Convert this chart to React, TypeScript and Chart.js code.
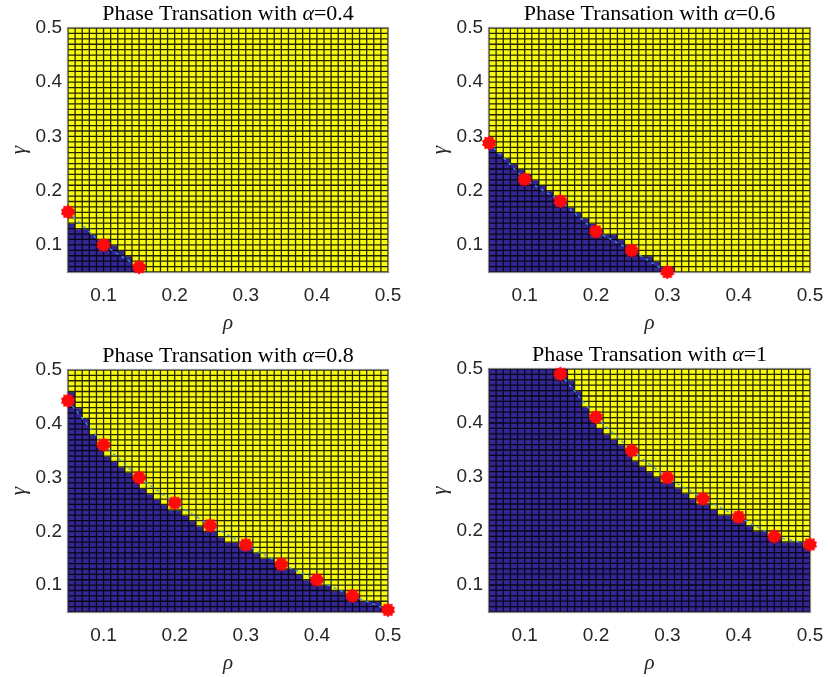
import React, { useEffect, useRef } from "react";
import { Chart, registerables } from "chart.js";

Chart.register(...registerables);

// cell edges for rho (x) and gamma (y)
const GRID = [
  0.05, 0.06, 0.07, 0.08, 0.09, 0.1, 0.11, 0.12, 0.13, 0.14, 0.15, 0.16, 0.17, 0.18, 0.19, 0.2,
  0.21, 0.22, 0.23, 0.24, 0.25, 0.26, 0.27, 0.28, 0.29, 0.3, 0.31, 0.32, 0.33, 0.34, 0.35, 0.36,
  0.37, 0.38, 0.39, 0.4, 0.41, 0.42, 0.43, 0.44, 0.45, 0.46, 0.47, 0.48, 0.49, 0.5,
];
const TICKS = [0.1, 0.2, 0.3, 0.4, 0.5];
const TICK_LABELS = ["0.1", "0.2", "0.3", "0.4", "0.5"];
const ALPHAS = ["0.4", "0.6", "0.8", "1"];

// number of "failure" (blue) cells from the bottom in each rho column
const BLUE_A04 = [
  9, 8, 8, 7, 6, 6, 5, 4, 3, 1, 0, 0, 0, 0, 0, 0, 0, 0, 0, 0, 0, 0, 0, 0, 0, 0, 0, 0, 0, 0, 0, 0,
  0, 0, 0, 0, 0, 0, 0, 0, 0, 0, 0, 0, 0,
];
const BLUE_A06 = [
  23, 22, 21, 20, 19, 18, 17, 16, 15, 14, 13, 12, 11, 10, 9, 8, 7, 7, 6, 5, 4, 3, 3, 2, 1, 1, 0,
  0, 0, 0, 0, 0, 0, 0, 0, 0, 0, 0, 0, 0, 0, 0, 0, 0, 0,
];
const BLUE_A08 = [
  41, 38, 36, 33, 31, 29, 28, 27, 26, 25, 23, 22, 21, 20, 19, 19, 18, 17, 16, 15, 15, 14, 13, 13,
  12, 12, 11, 10, 10, 9, 8, 8, 7, 6, 6, 5, 5, 4, 4, 3, 3, 2, 2, 2, 1,
];
const BLUE_A1 = [
  45, 45, 45, 45, 45, 45, 45, 45, 45, 45, 45, 43, 41, 38, 36, 34, 33, 32, 31, 30, 28, 27, 26, 25,
  24, 24, 23, 22, 21, 20, 20, 19, 18, 18, 17, 17, 16, 15, 15, 14, 14, 13, 13, 13, 12,
];

// theoretical transition points (red markers)
const RHO_A04 = [0.05, 0.1, 0.15];
const GAMMA_A04 = [0.161, 0.1, 0.059];
const RHO_A06 = [0.05, 0.1, 0.15, 0.2, 0.25, 0.3];
const GAMMA_A06 = [0.288, 0.221, 0.181, 0.125, 0.09, 0.05];
const RHO_A08 = [0.05, 0.1, 0.15, 0.2, 0.25, 0.3, 0.35, 0.4, 0.45, 0.5];
const GAMMA_A08 = [0.443, 0.361, 0.3, 0.253, 0.211, 0.175, 0.139, 0.11, 0.08, 0.054];
const RHO_A1 = [0.15, 0.2, 0.25, 0.3, 0.35, 0.4, 0.45, 0.5];
const GAMMA_A1 = [0.491, 0.411, 0.349, 0.299, 0.26, 0.226, 0.19, 0.175];

const PANELS = [
  { alpha: ALPHAS[0], blue: BLUE_A04, rho: RHO_A04, gamma: GAMMA_A04 },
  { alpha: ALPHAS[1], blue: BLUE_A06, rho: RHO_A06, gamma: GAMMA_A06 },
  { alpha: ALPHAS[2], blue: BLUE_A08, rho: RHO_A08, gamma: GAMMA_A08 },
  { alpha: ALPHAS[3], blue: BLUE_A1, rho: RHO_A1, gamma: GAMMA_A1 },
];

// canvas placement and chart-area padding per panel
const LAYOUT = [
  { left: 0, top: 0, w: 414, h: 338, pl: 68, pr: 26, pt: 28, pb: 66 },
  { left: 414, top: 0, w: 414, h: 338, pl: 75, pr: 18, pt: 28, pb: 66 },
  { left: 0, top: 338, w: 414, h: 339, pl: 68, pr: 26, pt: 32, pb: 65 },
  { left: 414, top: 338, w: 414, h: 339, pl: 75, pr: 18, pt: 31, pb: 65 },
];

const BLUE = "rgb(52,38,148)";
const YELLOW = "rgb(249,251,14)";
const TICK_FONT = "Liberation Sans";
const SERIF = "Liberation Serif";

function makeStar(): HTMLCanvasElement {
  const c = document.createElement("canvas");
  const s = 18;
  c.width = s;
  c.height = s;
  const ctx = c.getContext("2d")!;
  ctx.fillStyle = "#ff0a0a";
  ctx.beginPath();
  const n = 10;
  const ro = 7.6;
  const ri = 5.8;
  for (let k = 0; k < 2 * n; k++) {
    const r = k % 2 ? ri : ro;
    const a = -Math.PI / 2 + (k * Math.PI) / n;
    const px = s / 2 + r * Math.cos(a);
    const py = s / 2 + r * Math.sin(a);
    if (k === 0) ctx.moveTo(px, py);
    else ctx.lineTo(px, py);
  }
  ctx.closePath();
  ctx.fill();
  return c;
}

function heatmapPlugin(rows: number[]) {
  return {
    id: "heatmap",
    beforeDatasetsDraw(chart: any) {
      const { ctx, chartArea } = chart;
      const x = chart.scales.x;
      const y = chart.scales.y;
      ctx.save();
      for (let i = 0; i < GRID.length - 1; i++) {
        const x0 = x.getPixelForValue(GRID[i]);
        const x1 = x.getPixelForValue(GRID[i + 1]);
        for (let j = 0; j < GRID.length - 1; j++) {
          const y0 = y.getPixelForValue(GRID[j]);
          const y1 = y.getPixelForValue(GRID[j + 1]);
          ctx.fillStyle = j < rows[i] ? BLUE : YELLOW;
          ctx.fillRect(x0, y1, x1 - x0 + 0.6, y0 - y1 + 0.6);
        }
      }
      ctx.strokeStyle = "rgba(0,0,0,0.85)";
      ctx.lineWidth = 1.3;
      ctx.beginPath();
      for (const v of GRID) {
        const px = x.getPixelForValue(v);
        ctx.moveTo(px, chartArea.top);
        ctx.lineTo(px, chartArea.bottom);
        const py = y.getPixelForValue(v);
        ctx.moveTo(chartArea.left, py);
        ctx.lineTo(chartArea.right, py);
      }
      ctx.stroke();
      ctx.strokeStyle = "#8a8a8a";
      ctx.lineWidth = 1.2;
      ctx.strokeRect(
        chartArea.left - 0.5,
        chartArea.top - 0.5,
        chartArea.right - chartArea.left + 1,
        chartArea.bottom - chartArea.top + 1
      );
      ctx.restore();
    },
  };
}

function textPlugin(alpha: string) {
  return {
    id: "texts",
    afterDraw(chart: any) {
      const { ctx, chartArea } = chart;
      const cx = (chartArea.left + chartArea.right) / 2;
      const cy = (chartArea.top + chartArea.bottom) / 2;
      ctx.save();
      ctx.fillStyle = "#000000";
      ctx.textBaseline = "alphabetic";
      ctx.textAlign = "left";
      const normal = `22px "${SERIF}"`;
      const italic = `italic 22px "${SERIF}"`;
      const parts: [string, string][] = [
        ["Phase Transation with ", normal],
        ["\u03b1", italic],
        ["=" + alpha, normal],
      ];
      let total = 0;
      for (const [t, f] of parts) {
        ctx.font = f;
        total += ctx.measureText(t).width;
      }
      let px = cx - total / 2;
      const by = chartArea.top - 8;
      for (const [t, f] of parts) {
        ctx.font = f;
        ctx.fillText(t, px, by);
        px += ctx.measureText(t).width;
      }
      ctx.fillStyle = "#262626";
      ctx.font = `italic 21px "${SERIF}"`;
      ctx.textAlign = "center";
      ctx.textBaseline = "middle";
      ctx.fillText("\u03c1", cx, chartArea.bottom + 51);
      ctx.translate(chartArea.left - 49, cy);
      ctx.rotate(-Math.PI / 2);
      ctx.fillText("\u03b3", 0, 0);
      ctx.restore();
    },
  };
}

export default function App() {
  const refs = [
    useRef<HTMLCanvasElement>(null),
    useRef<HTMLCanvasElement>(null),
    useRef<HTMLCanvasElement>(null),
    useRef<HTMLCanvasElement>(null),
  ];

  useEffect(() => {
    const star = makeStar();
    const charts: Chart[] = [];
    PANELS.forEach((p, idx) => {
      const L = LAYOUT[idx];
      const canvas = refs[idx].current;
      if (!canvas) return;
      const pts = p.rho.map((r, k) => ({ x: r, y: p.gamma[k] }));
      const tickCfg = {
        color: "#262626",
        font: { family: TICK_FONT, size: 19 },
        callback: (_v: any, i: number) => TICK_LABELS[i],
        autoSkip: false,
        maxRotation: 0,
      };
      const chart = new Chart(canvas, {
        type: "scatter",
        data: {
          datasets: [
            {
              data: pts,
              showLine: true,
              borderColor: "rgba(60,150,235,0.9)",
              borderWidth: 1.5,
              borderDash: [3, 4],
              pointRadius: 0,
              order: 2,
            } as any,
            {
              data: pts,
              pointStyle: star,
              pointRadius: 8,
              showLine: false,
              clip: false,
              order: 1,
            } as any,
          ],
        },
        options: {
          animation: false,
          responsive: false,
          maintainAspectRatio: false,
          events: [],
          layout: { padding: { left: 0, right: L.pr, top: L.pt, bottom: 0 } },
          plugins: {
            legend: { display: false },
            tooltip: { enabled: false },
            title: { display: false },
          },
          scales: {
            x: {
              type: "linear",
              min: 0.05,
              max: 0.5,
              afterBuildTicks: (s: any) => {
                s.ticks = TICKS.map((v) => ({ value: v }));
              },
              afterFit: (s: any) => {
                s.height = L.pb;
                s.paddingLeft = 0;
                s.paddingRight = 0;
              },
              grid: { display: false, drawTicks: false },
              border: { display: false },
              ticks: { ...tickCfg, padding: 12 },
            },
            y: {
              type: "linear",
              min: 0.05,
              max: 0.5,
              afterBuildTicks: (s: any) => {
                s.ticks = TICKS.map((v) => ({ value: v }));
              },
              afterFit: (s: any) => {
                s.width = L.pl;
                s.paddingTop = 0;
                s.paddingBottom = 0;
              },
              grid: { display: false, drawTicks: false },
              border: { display: false },
              ticks: { ...tickCfg, padding: 6 },
            },
          },
        } as any,
        plugins: [heatmapPlugin(p.blue), textPlugin(p.alpha)],
      });
      charts.push(chart);
    });
    return () => charts.forEach((c) => c.destroy());
  }, []);

  return (
    <div
      style={{
        position: "absolute",
        left: 0,
        top: 0,
        width: 828,
        height: 677,
        background: "#ffffff",
        overflow: "hidden",
      }}
    >
      {LAYOUT.map((L, i) => (
        <canvas
          key={i}
          ref={refs[i]}
          width={L.w}
          height={L.h}
          style={{ position: "absolute", left: L.left, top: L.top, width: L.w, height: L.h }}
        />
      ))}
    </div>
  );
}
